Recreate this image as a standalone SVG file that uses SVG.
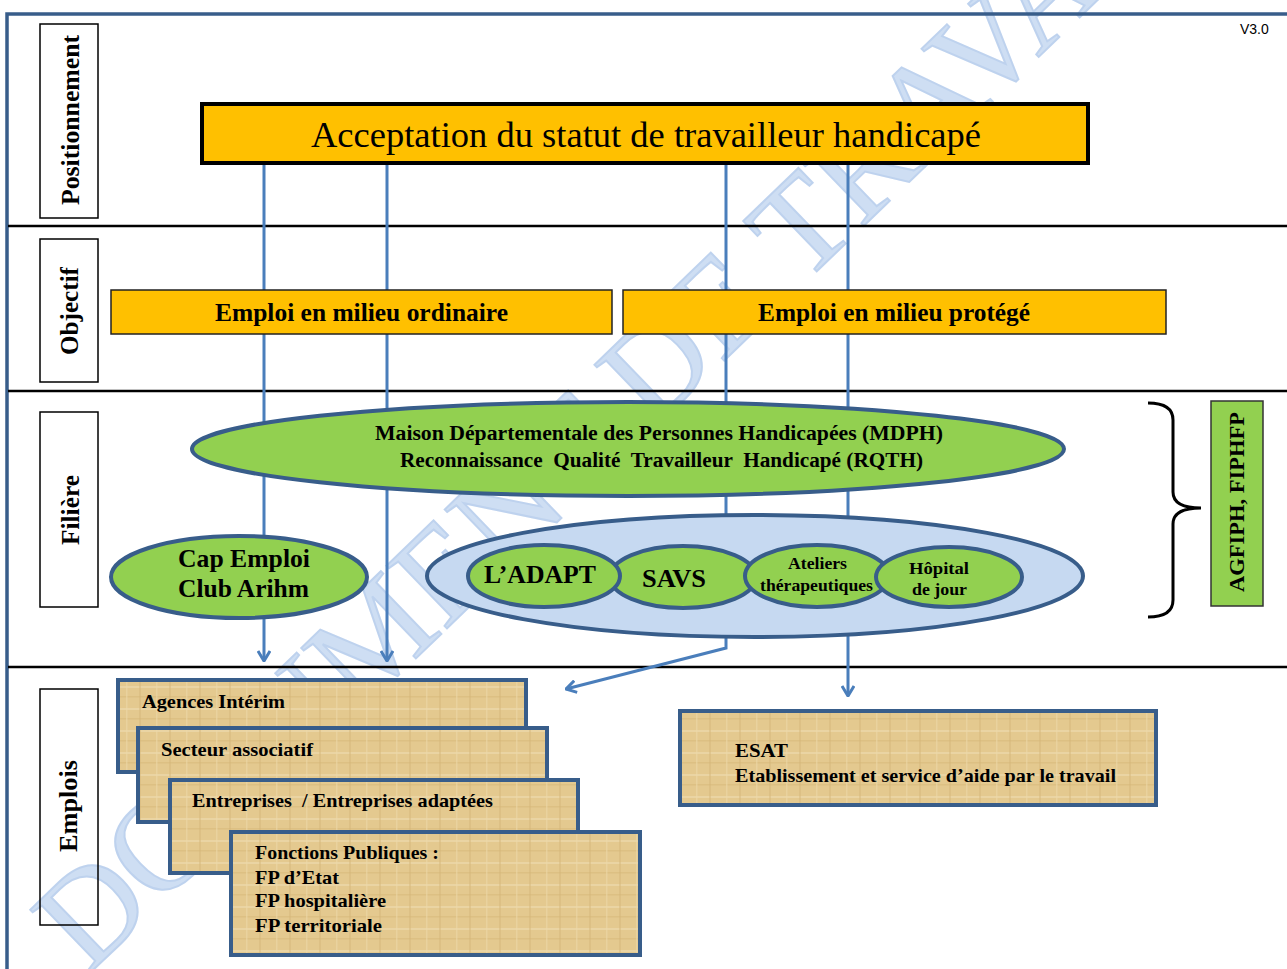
<svg xmlns="http://www.w3.org/2000/svg" width="1287" height="969" viewBox="0 0 1287 969">
<style>
.t{font-family:"Liberation Serif","Times New Roman",serif;font-weight:bold;fill:#000}
.lbl{font-size:26px}
.box{fill:none;stroke:#000;stroke-width:1.5}
.sep{stroke:#000;stroke-width:2.5}
.yel{fill:#ffc000;stroke:#222;stroke-width:1.5}
.grn{fill:#92d050;stroke:#385d8a;stroke-width:4}
.lb{fill:#c6d9f1;stroke:#385d8a;stroke-width:4}
.tan{fill:url(#papyrus);stroke:#385d8a;stroke-width:4}
.con{fill:none;stroke:#4a7ebb;stroke-width:3}
.wm{font-family:"Liberation Serif","Times New Roman",serif;font-size:133px;fill:#c6d9f1;stroke:#b3cbec;stroke-width:2;opacity:0.85}
</style>
<defs>
<pattern id="papyrus" width="30" height="22" patternUnits="userSpaceOnUse">
<rect width="30" height="22" fill="#e4c98f"/>
<rect x="0" y="4" width="30" height="2" fill="#efdcb0" opacity="0.6"/>
<rect x="0" y="14" width="30" height="1.5" fill="#d8bb7c" opacity="0.6"/>
<rect x="6" y="0" width="1.5" height="22" fill="#ecd8a8" opacity="0.6"/>
<rect x="19" y="0" width="2" height="22" fill="#d6b677" opacity="0.45"/>
</pattern>
<marker id="arr" viewBox="0 0 12 14" refX="11" refY="7" markerWidth="12" markerHeight="14" markerUnits="userSpaceOnUse" orient="auto">
<path d="M1,1 L11,7 L1,13" fill="none" stroke="#4a7ebb" stroke-width="3"/>
</marker>
</defs>
<rect width="1287" height="969" fill="#fff"/>
<text class="wm" transform="translate(88,975) rotate(-44)">DOCUMENT DE TRAVAIL</text>
<g id="frame">
<path d="M7,969 V14 H1287" fill="none" stroke="#385d8a" stroke-width="3.5"/>
<line class="sep" x1="8" y1="226" x2="1287" y2="226"/>
<line class="sep" x1="8" y1="391" x2="1287" y2="391"/>
<line class="sep" x1="8" y1="667" x2="1287" y2="667"/>
<text x="1240" y="34" font-family="Liberation Sans, Arial, sans-serif" font-size="14" fill="#000">V3.0</text>
</g>
<g id="row-labels">
<rect class="box" x="40" y="24" width="58" height="194"/>
<text class="t lbl" transform="translate(79,120) rotate(-90)" text-anchor="middle" textLength="170" lengthAdjust="spacingAndGlyphs">Positionnement</text>
<rect class="box" x="40" y="239" width="58" height="143"/>
<text class="t lbl" transform="translate(78,311) rotate(-90)" text-anchor="middle" textLength="88" lengthAdjust="spacingAndGlyphs">Objectif</text>
<rect class="box" x="40" y="412" width="58" height="195"/>
<text class="t lbl" transform="translate(79,510) rotate(-90)" text-anchor="middle" textLength="70" lengthAdjust="spacingAndGlyphs">Filière</text>
<rect class="box" x="40" y="689" width="58" height="236"/>
<text class="t lbl" transform="translate(77,806) rotate(-90)" text-anchor="middle" textLength="92" lengthAdjust="spacingAndGlyphs">Emplois</text>
</g>
<g id="connectors">
<path class="con" d="M264,163 V661" marker-end="url(#arr)"/>
<path class="con" d="M387,163 V661" marker-end="url(#arr)"/>
<path class="con" d="M726,163 V648 L566,689" marker-end="url(#arr)"/>
<path class="con" d="M848,163 V696" marker-end="url(#arr)"/>
</g>
<g id="acceptation">
<rect x="202" y="104" width="886" height="59" fill="#ffc000" stroke="#000" stroke-width="4"/>
<text x="311" y="147" font-family="Liberation Serif, Times New Roman, serif" font-size="36" textLength="670" lengthAdjust="spacingAndGlyphs">Acceptation du statut de travailleur handicapé</text>
</g>
<g id="ordinaire">
<rect class="yel" x="111" y="290" width="501" height="44"/>
<text class="t" x="215" y="321" font-size="25" textLength="293" lengthAdjust="spacingAndGlyphs">Emploi en milieu ordinaire</text>
</g>
<g id="protege">
<rect class="yel" x="623" y="290" width="543" height="44"/>
<text class="t" x="758" y="321" font-size="25" textLength="272" lengthAdjust="spacingAndGlyphs">Emploi en milieu protégé</text>
</g>
<g id="mdph">
<ellipse class="grn" cx="628" cy="449" rx="436" ry="47"/>
<text class="t" x="375" y="440" font-size="20" textLength="568" lengthAdjust="spacingAndGlyphs">Maison Départementale des Personnes Handicapées (MDPH)</text>
<text class="t" x="400" y="467" font-size="20" textLength="523" lengthAdjust="spacingAndGlyphs" xml:space="preserve">Reconnaissance  Qualité  Travailleur  Handicapé (RQTH)</text>
</g>
<g id="cap-emploi">
<ellipse class="grn" cx="239" cy="577" rx="128" ry="41"/>
<text class="t" x="178" y="567" font-size="26" textLength="132" lengthAdjust="spacingAndGlyphs">Cap Emploi</text>
<text class="t" x="178" y="597" font-size="26" textLength="131" lengthAdjust="spacingAndGlyphs">Club Arihm</text>
</g>
<g id="protege-filiere">
<ellipse class="lb" cx="755" cy="576" rx="328" ry="61"/>
</g>
<g id="savs">
<ellipse class="grn" cx="683" cy="577" rx="73" ry="31"/>
<text class="t" x="642" y="587" font-size="25" textLength="64" lengthAdjust="spacingAndGlyphs">SAVS</text>
</g>
<g id="adapt">
<ellipse class="grn" cx="544" cy="576" rx="76" ry="31"/>
<text class="t" x="484" y="583" font-size="25" textLength="112" lengthAdjust="spacingAndGlyphs">L’ADAPT</text>
</g>
<g id="ateliers">
<ellipse class="grn" cx="817" cy="576" rx="72" ry="31"/>
<text class="t" x="788" y="569" font-size="16" textLength="59" lengthAdjust="spacingAndGlyphs">Ateliers</text>
<text class="t" x="760" y="591" font-size="16" textLength="113" lengthAdjust="spacingAndGlyphs">thérapeutiques</text>
</g>
<g id="hopital">
<ellipse class="grn" cx="949" cy="577" rx="73" ry="30"/>
<text class="t" x="909" y="574" font-size="16" textLength="60" lengthAdjust="spacingAndGlyphs">Hôpital</text>
<text class="t" x="912" y="595" font-size="16" textLength="55" lengthAdjust="spacingAndGlyphs">de jour</text>
</g>
<g id="financeurs">
<path d="M1148,403 Q1173,403 1173,420 V492 Q1173,508 1201,508 Q1173,508 1173,524 V600 Q1173,617 1148,617" fill="none" stroke="#000" stroke-width="3"/>
<rect x="1211" y="401" width="52" height="205" fill="#92d050" stroke="#333" stroke-width="1.5"/>
<text class="t" transform="translate(1244,502) rotate(-90)" text-anchor="middle" font-size="21" textLength="180" lengthAdjust="spacingAndGlyphs">AGFIPH, FIPHFP</text>
</g>
<g id="interim">
<rect class="tan" x="118" y="680" width="408" height="92"/>
<text class="t" x="142" y="708" font-size="19" textLength="143" lengthAdjust="spacingAndGlyphs">Agences Intérim</text>
</g>
<g id="associatif">
<rect class="tan" x="138" y="728" width="409" height="94"/>
<text class="t" x="161" y="756" font-size="19" textLength="152" lengthAdjust="spacingAndGlyphs">Secteur associatif</text>
</g>
<g id="entreprises">
<rect class="tan" x="170" y="780" width="408" height="93"/>
<text class="t" x="192" y="807" font-size="19" textLength="301" lengthAdjust="spacingAndGlyphs" xml:space="preserve">Entreprises  / Entreprises adaptées</text>
</g>
<g id="fonctions-publiques">
<rect class="tan" x="231" y="832" width="409" height="123"/>
<text class="t" x="255" y="859" font-size="19" textLength="184" lengthAdjust="spacingAndGlyphs">Fonctions Publiques :</text>
<text class="t" x="255" y="884" font-size="19" textLength="84" lengthAdjust="spacingAndGlyphs">FP d’Etat</text>
<text class="t" x="255" y="907" font-size="19" textLength="131" lengthAdjust="spacingAndGlyphs">FP hospitalière</text>
<text class="t" x="255" y="932" font-size="19" textLength="127" lengthAdjust="spacingAndGlyphs">FP territoriale</text>
</g>
<g id="esat">
<rect class="tan" x="680" y="711" width="476" height="94"/>
<text class="t" x="735" y="757" font-size="19" textLength="53" lengthAdjust="spacingAndGlyphs">ESAT</text>
<text class="t" x="735" y="782" font-size="19" textLength="381" lengthAdjust="spacingAndGlyphs">Etablissement et service d’aide par le travail</text>
</g>
</svg>
